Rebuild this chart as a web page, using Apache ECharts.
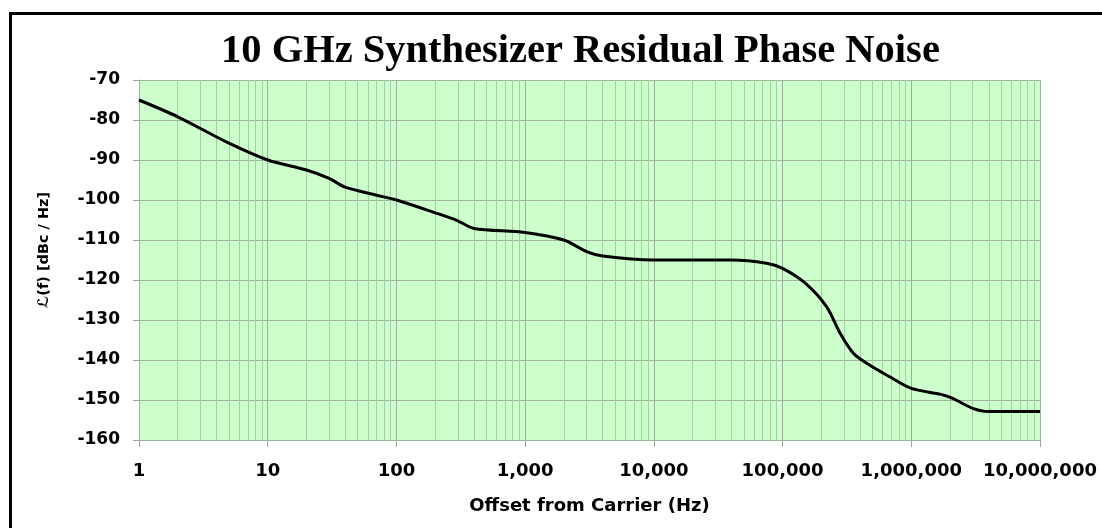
<!DOCTYPE html>
<html lang="en" style="height: 100%">
<head>
  <meta charset="utf-8">
</head>
<body style="height: 100%; margin: 0; background: #fff">
  <div id="container" style="width: 1102px; height: 528px"></div>
  <script type="text/javascript" src="https://fastly.jsdelivr.net/npm/echarts@6/dist/echarts.min.js"></script>
  <script type="text/javascript">
    // offset frequency (Hz) and phase noise (dBc/Hz)
    var offsetHz = [1, 2, 5, 10, 20, 30, 40, 70, 100, 200, 300, 400, 1000, 2000, 3000, 4000,
      10000, 40000, 75000, 100000, 150000, 220000, 280000, 355000, 450000, 680000,
      1000000, 1700000, 2100000, 3000000, 4000000, 10000000];
    var noiseDbc = [-75, -79.2, -85.8, -90, -92.5, -94.6, -96.8, -98.8, -100, -103.2, -105.2, -107.1, -108.1, -110, -112.9, -114,
      -115, -115, -115.8, -117.1, -120.8, -126.7, -133.3, -138.3, -140.8, -144.2,
      -147.1, -148.6, -149.6, -152.1, -152.9, -152.9];
    var xTickLabels = ['1', '10', '100', '1,000', '10,000', '100,000', '1,000,000', '10,000,000'];

    // minor log grid: 2..9 in each decade
    var minorLines = [];
    for (var d = 0; d < 7; d++) {
      for (var k = 2; k <= 9; k++) {
        minorLines.push({ xAxis: k * Math.pow(10, d) });
      }
    }

    var dom = document.getElementById('container');
    var myChart = echarts.init(dom, null, { renderer: 'canvas' });

    var boldFont = 'DejaVu Sans';
    var option = {
      animation: false,
      title: {
        text: '10 GHz Synthesizer Residual Phase Noise',
        left: 216,
        top: 26,
        textStyle: { fontFamily: 'Liberation Serif', fontWeight: 'bold', fontSize: 40.5, color: '#000' }
      },
      graphic: [{
        type: 'rect',
        left: 8, top: 11,
        shape: { width: 1200, height: 600 },
        style: { fill: 'none', stroke: '#000', lineWidth: 3 },
        silent: true
      }],
      grid: { left: 139, right: 62, top: 80, bottom: 88, show: true, backgroundColor: '#ccffcc', borderWidth: 0 },
      xAxis: {
        type: 'log',
        logBase: 10,
        min: 1,
        max: 10000000,
        name: 'Offset from Carrier (Hz)',
        nameLocation: 'middle',
        nameGap: 57,
        nameTextStyle: { fontFamily: boldFont, fontWeight: 'bold', fontSize: 18, color: '#000' },
        axisLine: { lineStyle: { color: '#9db59d' } },
        axisTick: { show: true, length: 7, lineStyle: { color: '#9aa89a' } },
        axisLabel: {
          margin: 22,
          fontFamily: boldFont, fontWeight: 'bold', fontSize: 18, color: '#000',
          formatter: function (v) {
            var i = Math.round(Math.log10(v));
            return xTickLabels[i];
          }
        },
        splitLine: { show: true, lineStyle: { color: '#9bb09b', width: 1 } }
      },
      yAxis: {
        type: 'value',
        min: -160,
        max: -70,
        interval: 10,
        name: 'ℒ(f) [dBc / Hz]',
        nameLocation: 'middle',
        nameGap: 87,
        nameTextStyle: { fontFamily: boldFont, fontWeight: 'bold', fontSize: 14.5, color: '#000', padding: [0, 0, 0, 20] },
        axisLine: { show: true, lineStyle: { color: '#9db59d' } },
        axisTick: { show: true, length: 6, lineStyle: { color: '#9aa89a' } },
        axisLabel: { margin: 19, fontFamily: boldFont, fontWeight: 'bold', fontSize: 17, color: '#000' },
        splitLine: { show: true, lineStyle: { color: '#9db59d', width: 1 } }
      },
      series: [
        {
          type: 'line',
          data: [],
          silent: true,
          markLine: {
            silent: true,
            symbol: 'none',
            label: { show: false },
            lineStyle: { color: '#a3cfa3', width: 1, type: 'solid' },
            data: minorLines
          }
        },
        {
          type: 'line',
          z: 5,
          smooth: 0.3,
          showSymbol: false,
          lineStyle: { color: '#000', width: 3 },
          data: offsetHz.map(function (f, i) { return [f, noiseDbc[i]]; })
        }
      ]
    };

    myChart.setOption(option);
    window.addEventListener('resize', myChart.resize);
  </script>
</body>
</html>
